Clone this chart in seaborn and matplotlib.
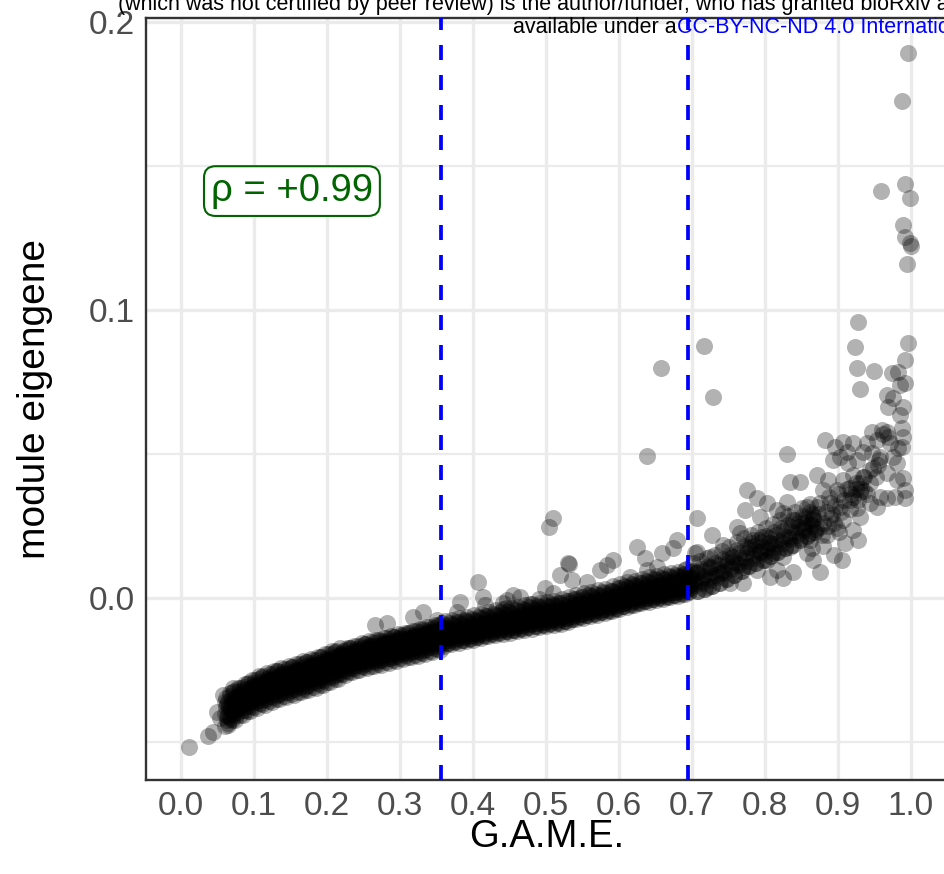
import matplotlib
matplotlib.use("Agg")
import matplotlib.pyplot as plt
import pandas as pd
import seaborn as sns

# ---------------------------------------------------------------- data
# G.A.M.E. score (x) and module eigengene (y) per sample, grouped by region

game_left = [
    0.060, 0.061, 0.062, 0.063, 0.064, 0.065, 0.066, 0.067, 0.068, 0.069,
    0.070, 0.071, 0.072, 0.073, 0.074, 0.075, 0.076, 0.077, 0.078, 0.079,
    0.080, 0.081, 0.082, 0.083, 0.084, 0.085, 0.086, 0.087, 0.088, 0.089,
    0.090, 0.091, 0.092, 0.093, 0.094, 0.095, 0.096, 0.097, 0.098, 0.099,
    0.100, 0.101, 0.102, 0.103, 0.104, 0.105, 0.106, 0.107, 0.108, 0.109,
    0.110, 0.111, 0.112, 0.113, 0.114, 0.115, 0.116, 0.117, 0.118, 0.119,
    0.120, 0.121, 0.122, 0.123, 0.124, 0.125, 0.126, 0.127, 0.128, 0.129,
    0.130, 0.131, 0.132, 0.133, 0.134, 0.135, 0.136, 0.137, 0.138, 0.139,
    0.140, 0.141, 0.142, 0.143, 0.144, 0.145, 0.146, 0.147, 0.148, 0.149,
    0.150, 0.151, 0.152, 0.153, 0.154, 0.155, 0.156, 0.157, 0.158, 0.159,
    0.160, 0.161, 0.162, 0.163, 0.164, 0.165, 0.166, 0.167, 0.168, 0.169,
    0.170, 0.171, 0.172, 0.173, 0.174, 0.175, 0.176, 0.177, 0.178, 0.179,
    0.180, 0.181, 0.182, 0.183, 0.184, 0.185, 0.186, 0.187, 0.188, 0.189,
    0.190, 0.191, 0.192, 0.193, 0.194, 0.195, 0.196, 0.197, 0.198, 0.199,
    0.200, 0.201, 0.202, 0.203, 0.204, 0.205, 0.206, 0.207, 0.208, 0.209,
    0.210, 0.211, 0.212, 0.213, 0.214, 0.215, 0.216, 0.217, 0.218, 0.219,
    0.220, 0.221, 0.222, 0.223, 0.224, 0.225, 0.226, 0.227, 0.228, 0.229,
    0.230, 0.231, 0.232, 0.233, 0.234, 0.235, 0.236, 0.237, 0.238, 0.239,
    0.240, 0.241, 0.242, 0.243, 0.244, 0.245, 0.246, 0.247, 0.248, 0.249,
    0.250, 0.251, 0.252, 0.253, 0.254, 0.255, 0.256, 0.257, 0.258, 0.259,
    0.260, 0.261, 0.262, 0.263, 0.264, 0.265, 0.266, 0.267, 0.268, 0.269,
    0.270, 0.271, 0.272, 0.273, 0.274, 0.275, 0.276, 0.277, 0.278, 0.279,
    0.280, 0.281, 0.282, 0.283, 0.284, 0.285, 0.286, 0.287, 0.288, 0.289,
    0.290, 0.291, 0.292, 0.293, 0.294, 0.295, 0.296, 0.297, 0.298, 0.299,
    0.300, 0.301, 0.302, 0.303, 0.304, 0.305, 0.306, 0.307, 0.308, 0.309,
    0.310, 0.311, 0.312, 0.313, 0.314, 0.315, 0.316, 0.317, 0.318, 0.319,
    0.320, 0.321, 0.322, 0.323, 0.324, 0.325, 0.326, 0.327, 0.328, 0.329,
    0.330, 0.331, 0.332, 0.333, 0.334, 0.335, 0.336, 0.337, 0.338, 0.339,
    0.340, 0.341, 0.342, 0.343, 0.344, 0.345, 0.346, 0.347, 0.348, 0.349,
    0.350, 0.351, 0.352, 0.353, 0.354, 0.355, 0.356, 0.357, 0.358, 0.359,
]
eig_left = [
    -0.0360, -0.0403, -0.0379, -0.0424, -0.0362, -0.0407, -0.0381, -0.0341, -0.0421, -0.0382,
    -0.0365, -0.0403, -0.0323, -0.0363, -0.0389, -0.0343, -0.0405, -0.0360, -0.0383, -0.0340,
    -0.0323, -0.0367, -0.0343, -0.0389, -0.0327, -0.0373, -0.0347, -0.0308, -0.0388, -0.0350,
    -0.0336, -0.0375, -0.0294, -0.0333, -0.0359, -0.0313, -0.0374, -0.0328, -0.0352, -0.0308,
    -0.0295, -0.0339, -0.0316, -0.0362, -0.0301, -0.0347, -0.0321, -0.0282, -0.0363, -0.0325,
    -0.0315, -0.0353, -0.0272, -0.0311, -0.0336, -0.0290, -0.0351, -0.0305, -0.0328, -0.0284,
    -0.0274, -0.0318, -0.0295, -0.0341, -0.0280, -0.0327, -0.0302, -0.0263, -0.0344, -0.0306,
    -0.0298, -0.0336, -0.0254, -0.0293, -0.0318, -0.0272, -0.0333, -0.0286, -0.0309, -0.0265,
    -0.0257, -0.0301, -0.0278, -0.0325, -0.0264, -0.0310, -0.0285, -0.0246, -0.0328, -0.0290,
    -0.0282, -0.0320, -0.0238, -0.0277, -0.0302, -0.0256, -0.0317, -0.0270, -0.0293, -0.0249,
    -0.0241, -0.0285, -0.0262, -0.0309, -0.0248, -0.0294, -0.0269, -0.0230, -0.0312, -0.0274,
    -0.0266, -0.0304, -0.0222, -0.0261, -0.0286, -0.0240, -0.0301, -0.0254, -0.0277, -0.0233,
    -0.0225, -0.0269, -0.0246, -0.0293, -0.0232, -0.0278, -0.0253, -0.0214, -0.0296, -0.0258,
    -0.0248, -0.0286, -0.0205, -0.0244, -0.0269, -0.0223, -0.0284, -0.0238, -0.0261, -0.0217,
    -0.0207, -0.0251, -0.0228, -0.0274, -0.0213, -0.0259, -0.0234, -0.0195, -0.0276, -0.0238,
    -0.0228, -0.0266, -0.0185, -0.0224, -0.0249, -0.0203, -0.0264, -0.0218, -0.0241, -0.0197,
    -0.0192, -0.0230, -0.0210, -0.0250, -0.0198, -0.0237, -0.0215, -0.0182, -0.0252, -0.0219,
    -0.0211, -0.0244, -0.0174, -0.0207, -0.0229, -0.0190, -0.0242, -0.0202, -0.0222, -0.0184,
    -0.0176, -0.0214, -0.0194, -0.0234, -0.0182, -0.0221, -0.0199, -0.0166, -0.0236, -0.0203,
    -0.0197, -0.0229, -0.0160, -0.0192, -0.0214, -0.0175, -0.0226, -0.0187, -0.0206, -0.0168,
    -0.0162, -0.0200, -0.0181, -0.0220, -0.0169, -0.0208, -0.0186, -0.0154, -0.0223, -0.0191,
    -0.0185, -0.0217, -0.0148, -0.0180, -0.0202, -0.0163, -0.0214, -0.0175, -0.0194, -0.0156,
    -0.0149, -0.0187, -0.0168, -0.0207, -0.0156, -0.0195, -0.0173, -0.0141, -0.0210, -0.0178,
    -0.0172, -0.0204, -0.0135, -0.0167, -0.0189, -0.0150, -0.0201, -0.0162, -0.0181, -0.0143,
    -0.0137, -0.0175, -0.0156, -0.0195, -0.0144, -0.0183, -0.0161, -0.0129, -0.0198, -0.0166,
    -0.0160, -0.0192, -0.0123, -0.0155, -0.0177, -0.0138, -0.0189, -0.0150, -0.0169, -0.0131,
    -0.0125, -0.0163, -0.0144, -0.0183, -0.0132, -0.0171, -0.0149, -0.0117, -0.0186, -0.0154,
    -0.0147, -0.0179, -0.0110, -0.0142, -0.0164, -0.0125, -0.0176, -0.0137, -0.0156, -0.0118,
    -0.0111, -0.0149, -0.0130, -0.0169, -0.0118, -0.0157, -0.0135, -0.0103, -0.0172, -0.0140,
    -0.0133, -0.0165, -0.0096, -0.0128, -0.0150, -0.0111, -0.0162, -0.0123, -0.0142, -0.0104,
]

game_left_b = [
    0.0605, 0.0615, 0.0625, 0.0635, 0.0645, 0.0655, 0.0665, 0.0675, 0.0685, 0.0695,
    0.0705, 0.0715, 0.0725, 0.0735, 0.0745, 0.0755, 0.0765, 0.0775, 0.0785, 0.0795,
    0.0805, 0.0815, 0.0825, 0.0835, 0.0845, 0.0855, 0.0865, 0.0875, 0.0885, 0.0895,
    0.0905, 0.0915, 0.0925, 0.0935, 0.0945, 0.0955, 0.0965, 0.0975, 0.0985, 0.0995,
    0.1005, 0.1015, 0.1025, 0.1035, 0.1045, 0.1055, 0.1065, 0.1075, 0.1085, 0.1095,
    0.1105, 0.1115, 0.1125, 0.1135, 0.1145, 0.1155, 0.1165, 0.1175, 0.1185, 0.1195,
    0.1205, 0.1215, 0.1225, 0.1235, 0.1245, 0.1255, 0.1265, 0.1275, 0.1285, 0.1295,
    0.1305, 0.1315, 0.1325, 0.1335, 0.1345, 0.1355, 0.1365, 0.1375, 0.1385, 0.1395,
    0.1405, 0.1415, 0.1425, 0.1435, 0.1445, 0.1455, 0.1465, 0.1475, 0.1485, 0.1495,
    0.1505, 0.1515, 0.1525, 0.1535, 0.1545, 0.1555, 0.1565, 0.1575, 0.1585, 0.1595,
    0.1605, 0.1615, 0.1625, 0.1635, 0.1645, 0.1655, 0.1665, 0.1675, 0.1685, 0.1695,
    0.1705, 0.1715, 0.1725, 0.1735, 0.1745, 0.1755, 0.1765, 0.1775, 0.1785, 0.1795,
    0.1805, 0.1815, 0.1825, 0.1835, 0.1845, 0.1855, 0.1865, 0.1875, 0.1885, 0.1895,
    0.1905, 0.1915, 0.1925, 0.1935, 0.1945, 0.1955, 0.1965, 0.1975, 0.1985, 0.1995,
    0.2005, 0.2015, 0.2025, 0.2035, 0.2045, 0.2055, 0.2065, 0.2075, 0.2085, 0.2095,
    0.2105, 0.2115, 0.2125, 0.2135, 0.2145, 0.2155, 0.2165, 0.2175, 0.2185, 0.2195,
    0.2205, 0.2215, 0.2225, 0.2235, 0.2245, 0.2255, 0.2265, 0.2275, 0.2285, 0.2295,
    0.2305, 0.2315, 0.2325, 0.2335, 0.2345, 0.2355, 0.2365, 0.2375, 0.2385, 0.2395,
    0.2405, 0.2415, 0.2425, 0.2435, 0.2445, 0.2455, 0.2465, 0.2475, 0.2485, 0.2495,
    0.2505, 0.2515, 0.2525, 0.2535, 0.2545, 0.2555, 0.2565, 0.2575, 0.2585, 0.2595,
    0.2605, 0.2615, 0.2625, 0.2635, 0.2645, 0.2655, 0.2665, 0.2675, 0.2685, 0.2695,
    0.2705, 0.2715, 0.2725, 0.2735, 0.2745, 0.2755, 0.2765, 0.2775, 0.2785, 0.2795,
    0.2805, 0.2815, 0.2825, 0.2835, 0.2845, 0.2855, 0.2865, 0.2875, 0.2885, 0.2895,
    0.2905, 0.2915, 0.2925, 0.2935, 0.2945, 0.2955, 0.2965, 0.2975, 0.2985, 0.2995,
    0.3005, 0.3015, 0.3025, 0.3035, 0.3045, 0.3055, 0.3065, 0.3075, 0.3085, 0.3095,
    0.3105, 0.3115, 0.3125, 0.3135, 0.3145, 0.3155, 0.3165, 0.3175, 0.3185, 0.3195,
    0.3205, 0.3215, 0.3225, 0.3235, 0.3245, 0.3255, 0.3265, 0.3275, 0.3285, 0.3295,
    0.3305, 0.3315, 0.3325, 0.3335, 0.3345, 0.3355, 0.3365, 0.3375, 0.3385, 0.3395,
    0.3405, 0.3415, 0.3425, 0.3435, 0.3445, 0.3455, 0.3465, 0.3475, 0.3485, 0.3495,
    0.3505, 0.3515, 0.3525, 0.3535, 0.3545, 0.3555, 0.3565, 0.3575, 0.3585, 0.3595,
]
eig_left_b = [
    -0.0445, -0.0348, -0.0411, -0.0369, -0.0442, -0.0375, -0.0413, -0.0331, -0.0387, -0.0349,
    -0.0425, -0.0328, -0.0392, -0.0350, -0.0423, -0.0357, -0.0395, -0.0313, -0.0369, -0.0332,
    -0.0408, -0.0312, -0.0375, -0.0334, -0.0407, -0.0341, -0.0379, -0.0298, -0.0354, -0.0317,
    -0.0393, -0.0297, -0.0360, -0.0319, -0.0393, -0.0327, -0.0365, -0.0284, -0.0341, -0.0303,
    -0.0380, -0.0284, -0.0348, -0.0307, -0.0381, -0.0315, -0.0353, -0.0272, -0.0329, -0.0292,
    -0.0369, -0.0273, -0.0337, -0.0296, -0.0370, -0.0304, -0.0343, -0.0262, -0.0319, -0.0282,
    -0.0359, -0.0263, -0.0327, -0.0286, -0.0360, -0.0295, -0.0334, -0.0253, -0.0310, -0.0273,
    -0.0350, -0.0254, -0.0318, -0.0278, -0.0352, -0.0286, -0.0325, -0.0244, -0.0302, -0.0265,
    -0.0342, -0.0246, -0.0310, -0.0270, -0.0344, -0.0278, -0.0317, -0.0236, -0.0294, -0.0257,
    -0.0334, -0.0238, -0.0302, -0.0262, -0.0336, -0.0270, -0.0309, -0.0228, -0.0286, -0.0249,
    -0.0326, -0.0230, -0.0294, -0.0254, -0.0328, -0.0262, -0.0301, -0.0220, -0.0278, -0.0241,
    -0.0318, -0.0222, -0.0286, -0.0246, -0.0320, -0.0254, -0.0293, -0.0212, -0.0270, -0.0233,
    -0.0310, -0.0214, -0.0278, -0.0238, -0.0312, -0.0246, -0.0285, -0.0204, -0.0262, -0.0225,
    -0.0302, -0.0206, -0.0270, -0.0229, -0.0303, -0.0237, -0.0276, -0.0195, -0.0252, -0.0215,
    -0.0292, -0.0196, -0.0260, -0.0219, -0.0293, -0.0227, -0.0266, -0.0185, -0.0242, -0.0205,
    -0.0282, -0.0186, -0.0250, -0.0209, -0.0283, -0.0217, -0.0256, -0.0175, -0.0232, -0.0195,
    -0.0265, -0.0183, -0.0237, -0.0203, -0.0266, -0.0209, -0.0243, -0.0173, -0.0223, -0.0191,
    -0.0257, -0.0175, -0.0229, -0.0195, -0.0258, -0.0201, -0.0235, -0.0165, -0.0215, -0.0183,
    -0.0249, -0.0167, -0.0221, -0.0187, -0.0250, -0.0193, -0.0227, -0.0157, -0.0207, -0.0175,
    -0.0241, -0.0159, -0.0214, -0.0179, -0.0243, -0.0186, -0.0220, -0.0151, -0.0200, -0.0169,
    -0.0235, -0.0153, -0.0208, -0.0173, -0.0237, -0.0180, -0.0214, -0.0145, -0.0194, -0.0163,
    -0.0229, -0.0147, -0.0202, -0.0167, -0.0231, -0.0174, -0.0208, -0.0139, -0.0188, -0.0157,
    -0.0222, -0.0140, -0.0195, -0.0160, -0.0224, -0.0167, -0.0201, -0.0132, -0.0181, -0.0150,
    -0.0216, -0.0134, -0.0189, -0.0154, -0.0218, -0.0161, -0.0195, -0.0126, -0.0175, -0.0144,
    -0.0210, -0.0128, -0.0183, -0.0148, -0.0212, -0.0155, -0.0189, -0.0120, -0.0169, -0.0138,
    -0.0204, -0.0122, -0.0177, -0.0142, -0.0206, -0.0149, -0.0183, -0.0114, -0.0163, -0.0132,
    -0.0198, -0.0116, -0.0171, -0.0136, -0.0200, -0.0143, -0.0177, -0.0108, -0.0157, -0.0126,
    -0.0191, -0.0109, -0.0164, -0.0129, -0.0193, -0.0136, -0.0170, -0.0101, -0.0150, -0.0119,
    -0.0184, -0.0102, -0.0157, -0.0122, -0.0186, -0.0129, -0.0163, -0.0094, -0.0143, -0.0112,
    -0.0177, -0.0095, -0.0150, -0.0115, -0.0179, -0.0122, -0.0156, -0.0087, -0.0136, -0.0105,
]

game_mid = [
    0.361, 0.363, 0.364, 0.366, 0.367, 0.369, 0.362, 0.365,
    0.371, 0.373, 0.374, 0.376, 0.377, 0.379, 0.372, 0.375,
    0.381, 0.383, 0.384, 0.386, 0.387, 0.389, 0.382, 0.385,
    0.391, 0.393, 0.394, 0.396, 0.397, 0.399, 0.392, 0.395,
    0.401, 0.403, 0.404, 0.406, 0.407, 0.409, 0.402, 0.405,
    0.411, 0.413, 0.414, 0.416, 0.417, 0.419, 0.412, 0.415,
    0.421, 0.423, 0.424, 0.426, 0.427, 0.429, 0.422, 0.425,
    0.431, 0.433, 0.434, 0.436, 0.437, 0.439, 0.432, 0.435,
    0.441, 0.443, 0.444, 0.446, 0.447, 0.449, 0.442, 0.445,
    0.451, 0.453, 0.454, 0.456, 0.457, 0.459, 0.452, 0.455,
    0.461, 0.463, 0.464, 0.466, 0.467, 0.469, 0.462, 0.465,
    0.471, 0.473, 0.474, 0.476, 0.477, 0.479, 0.472, 0.475,
    0.481, 0.483, 0.484, 0.486, 0.487, 0.489, 0.482, 0.485,
    0.491, 0.493, 0.494, 0.496, 0.497, 0.499, 0.492, 0.495,
    0.501, 0.503, 0.504, 0.506, 0.507, 0.509, 0.502, 0.505,
    0.511, 0.513, 0.514, 0.516, 0.517, 0.519, 0.512, 0.515,
    0.521, 0.523, 0.524, 0.526, 0.527, 0.529, 0.522, 0.525,
    0.531, 0.533, 0.534, 0.536, 0.537, 0.539, 0.532, 0.535,
    0.541, 0.543, 0.544, 0.546, 0.547, 0.549, 0.542, 0.545,
    0.551, 0.553, 0.554, 0.556, 0.557, 0.559, 0.552, 0.555,
    0.561, 0.563, 0.564, 0.566, 0.567, 0.569, 0.562, 0.565,
    0.571, 0.573, 0.574, 0.576, 0.577, 0.579, 0.572, 0.575,
    0.581, 0.583, 0.584, 0.586, 0.587, 0.589, 0.582, 0.585,
    0.591, 0.593, 0.594, 0.596, 0.597, 0.599, 0.592, 0.595,
    0.601, 0.603, 0.604, 0.606, 0.607, 0.609, 0.602, 0.605,
    0.611, 0.613, 0.614, 0.616, 0.617, 0.619, 0.612, 0.615,
    0.621, 0.623, 0.624, 0.626, 0.627, 0.629, 0.622, 0.625,
    0.631, 0.633, 0.634, 0.636, 0.637, 0.639, 0.632, 0.635,
    0.641, 0.643, 0.644, 0.646, 0.647, 0.649, 0.642, 0.645,
    0.651, 0.653, 0.654, 0.656, 0.657, 0.659, 0.652, 0.655,
    0.661, 0.663, 0.664, 0.666, 0.667, 0.669, 0.662, 0.665,
    0.671, 0.673, 0.674, 0.676, 0.677, 0.679, 0.672, 0.675,
    0.681, 0.683, 0.684, 0.686, 0.687, 0.689, 0.682, 0.685,
    0.691, 0.693, 0.694, 0.696, 0.697, 0.699, 0.692, 0.695,
]
eig_mid = [
    -0.0095, -0.0140, -0.0117, -0.0157, -0.0107, -0.0130, -0.0125, -0.0147,
    -0.0090, -0.0135, -0.0112, -0.0152, -0.0102, -0.0125, -0.0120, -0.0142,
    -0.0085, -0.0130, -0.0107, -0.0147, -0.0097, -0.0120, -0.0115, -0.0137,
    -0.0080, -0.0125, -0.0102, -0.0142, -0.0092, -0.0115, -0.0110, -0.0132,
    -0.0075, -0.0120, -0.0097, -0.0137, -0.0087, -0.0110, -0.0105, -0.0127,
    -0.0069, -0.0114, -0.0091, -0.0131, -0.0081, -0.0104, -0.0099, -0.0121,
    -0.0063, -0.0108, -0.0085, -0.0125, -0.0075, -0.0098, -0.0093, -0.0115,
    -0.0058, -0.0103, -0.0080, -0.0120, -0.0070, -0.0093, -0.0088, -0.0110,
    -0.0054, -0.0099, -0.0076, -0.0116, -0.0066, -0.0089, -0.0084, -0.0106,
    -0.0050, -0.0095, -0.0072, -0.0112, -0.0062, -0.0085, -0.0080, -0.0102,
    -0.0045, -0.0090, -0.0067, -0.0107, -0.0057, -0.0080, -0.0075, -0.0097,
    -0.0040, -0.0085, -0.0062, -0.0102, -0.0052, -0.0075, -0.0070, -0.0092,
    -0.0036, -0.0081, -0.0058, -0.0098, -0.0048, -0.0071, -0.0066, -0.0088,
    -0.0032, -0.0077, -0.0054, -0.0094, -0.0044, -0.0067, -0.0062, -0.0084,
    -0.0028, -0.0073, -0.0050, -0.0090, -0.0040, -0.0063, -0.0058, -0.0080,
    -0.0024, -0.0069, -0.0046, -0.0086, -0.0036, -0.0059, -0.0054, -0.0076,
    -0.0019, -0.0064, -0.0041, -0.0081, -0.0031, -0.0054, -0.0049, -0.0071,
    -0.0012, -0.0057, -0.0034, -0.0074, -0.0024, -0.0047, -0.0042, -0.0064,
    -0.0004, -0.0049, -0.0026, -0.0066, -0.0016, -0.0039, -0.0034, -0.0056,
    0.0002, -0.0043, -0.0020, -0.0060, -0.0010, -0.0033, -0.0028, -0.0050,
    0.0007, -0.0038, -0.0015, -0.0055, -0.0005, -0.0028, -0.0023, -0.0045,
    0.0012, -0.0033, -0.0010, -0.0050, 0.0000, -0.0023, -0.0018, -0.0040,
    0.0017, -0.0028, -0.0005, -0.0045, 0.0005, -0.0018, -0.0013, -0.0035,
    0.0025, -0.0020, 0.0003, -0.0037, 0.0013, -0.0010, -0.0005, -0.0027,
    0.0033, -0.0012, 0.0011, -0.0029, 0.0021, -0.0002, 0.0003, -0.0019,
    0.0039, -0.0006, 0.0017, -0.0023, 0.0027, 0.0004, 0.0009, -0.0013,
    0.0045, 0.0000, 0.0023, -0.0017, 0.0033, 0.0010, 0.0015, -0.0007,
    0.0051, 0.0006, 0.0029, -0.0011, 0.0039, 0.0016, 0.0021, -0.0001,
    0.0057, 0.0012, 0.0035, -0.0005, 0.0045, 0.0022, 0.0027, 0.0005,
    0.0062, 0.0017, 0.0040, 0.0000, 0.0050, 0.0027, 0.0032, 0.0010,
    0.0067, 0.0022, 0.0045, 0.0005, 0.0055, 0.0032, 0.0037, 0.0015,
    0.0072, 0.0027, 0.0050, 0.0010, 0.0060, 0.0037, 0.0042, 0.0020,
    0.0077, 0.0032, 0.0055, 0.0015, 0.0065, 0.0042, 0.0047, 0.0025,
    0.0084, 0.0039, 0.0062, 0.0022, 0.0072, 0.0049, 0.0054, 0.0032,
]

game_mid_b = [
    0.3605, 0.3615, 0.3625, 0.3635, 0.3655, 0.3665, 0.3675, 0.3685,
    0.3705, 0.3715, 0.3725, 0.3735, 0.3755, 0.3765, 0.3775, 0.3785,
    0.3805, 0.3815, 0.3825, 0.3835, 0.3855, 0.3865, 0.3875, 0.3885,
    0.3905, 0.3915, 0.3925, 0.3935, 0.3955, 0.3965, 0.3975, 0.3985,
    0.4005, 0.4015, 0.4025, 0.4035, 0.4055, 0.4065, 0.4075, 0.4085,
    0.4105, 0.4115, 0.4125, 0.4135, 0.4155, 0.4165, 0.4175, 0.4185,
    0.4205, 0.4215, 0.4225, 0.4235, 0.4255, 0.4265, 0.4275, 0.4285,
    0.4305, 0.4315, 0.4325, 0.4335, 0.4355, 0.4365, 0.4375, 0.4385,
    0.4405, 0.4415, 0.4425, 0.4435, 0.4455, 0.4465, 0.4475, 0.4485,
    0.4505, 0.4515, 0.4525, 0.4535, 0.4555, 0.4565, 0.4575, 0.4585,
    0.4605, 0.4615, 0.4625, 0.4635, 0.4655, 0.4665, 0.4675, 0.4685,
    0.4705, 0.4715, 0.4725, 0.4735, 0.4755, 0.4765, 0.4775, 0.4785,
    0.4805, 0.4815, 0.4825, 0.4835, 0.4855, 0.4865, 0.4875, 0.4885,
    0.4905, 0.4915, 0.4925, 0.4935, 0.4955, 0.4965, 0.4975, 0.4985,
    0.5005, 0.5015, 0.5025, 0.5035, 0.5055, 0.5065, 0.5075, 0.5085,
    0.5105, 0.5115, 0.5125, 0.5135, 0.5155, 0.5165, 0.5175, 0.5185,
    0.5205, 0.5215, 0.5225, 0.5235, 0.5255, 0.5265, 0.5275, 0.5285,
    0.5305, 0.5315, 0.5325, 0.5335, 0.5355, 0.5365, 0.5375, 0.5385,
    0.5405, 0.5415, 0.5425, 0.5435, 0.5455, 0.5465, 0.5475, 0.5485,
    0.5505, 0.5515, 0.5525, 0.5535, 0.5555, 0.5565, 0.5575, 0.5585,
    0.5605, 0.5615, 0.5625, 0.5635, 0.5655, 0.5665, 0.5675, 0.5685,
    0.5705, 0.5715, 0.5725, 0.5735, 0.5755, 0.5765, 0.5775, 0.5785,
    0.5805, 0.5815, 0.5825, 0.5835, 0.5855, 0.5865, 0.5875, 0.5885,
    0.5905, 0.5915, 0.5925, 0.5935, 0.5955, 0.5965, 0.5975, 0.5985,
    0.6005, 0.6015, 0.6025, 0.6035, 0.6055, 0.6065, 0.6075, 0.6085,
    0.6105, 0.6115, 0.6125, 0.6135, 0.6155, 0.6165, 0.6175, 0.6185,
    0.6205, 0.6215, 0.6225, 0.6235, 0.6255, 0.6265, 0.6275, 0.6285,
    0.6305, 0.6315, 0.6325, 0.6335, 0.6355, 0.6365, 0.6375, 0.6385,
    0.6405, 0.6415, 0.6425, 0.6435, 0.6455, 0.6465, 0.6475, 0.6485,
    0.6505, 0.6515, 0.6525, 0.6535, 0.6555, 0.6565, 0.6575, 0.6585,
    0.6605, 0.6615, 0.6625, 0.6635, 0.6655, 0.6665, 0.6675, 0.6685,
    0.6705, 0.6715, 0.6725, 0.6735, 0.6755, 0.6765, 0.6775, 0.6785,
    0.6805, 0.6815, 0.6825, 0.6835, 0.6855, 0.6865, 0.6875, 0.6885,
    0.6905, 0.6915, 0.6925, 0.6935, 0.6955, 0.6965, 0.6975, 0.6985,
]
eig_mid_b = [
    -0.0165, -0.0080, -0.0137, -0.0100, -0.0155, -0.0113, -0.0145, -0.0087,
    -0.0160, -0.0075, -0.0132, -0.0095, -0.0150, -0.0108, -0.0140, -0.0082,
    -0.0155, -0.0070, -0.0127, -0.0090, -0.0145, -0.0103, -0.0135, -0.0077,
    -0.0150, -0.0065, -0.0122, -0.0085, -0.0140, -0.0098, -0.0130, -0.0072,
    -0.0145, -0.0060, -0.0117, -0.0080, -0.0135, -0.0093, -0.0125, -0.0067,
    -0.0139, -0.0054, -0.0111, -0.0074, -0.0129, -0.0087, -0.0119, -0.0061,
    -0.0133, -0.0048, -0.0105, -0.0068, -0.0123, -0.0081, -0.0113, -0.0055,
    -0.0128, -0.0043, -0.0100, -0.0063, -0.0118, -0.0076, -0.0108, -0.0050,
    -0.0124, -0.0039, -0.0096, -0.0059, -0.0114, -0.0072, -0.0104, -0.0046,
    -0.0120, -0.0035, -0.0092, -0.0055, -0.0110, -0.0068, -0.0100, -0.0042,
    -0.0115, -0.0030, -0.0087, -0.0050, -0.0105, -0.0063, -0.0095, -0.0037,
    -0.0110, -0.0025, -0.0082, -0.0045, -0.0100, -0.0058, -0.0090, -0.0032,
    -0.0106, -0.0021, -0.0078, -0.0041, -0.0096, -0.0054, -0.0086, -0.0028,
    -0.0102, -0.0017, -0.0074, -0.0037, -0.0092, -0.0050, -0.0082, -0.0024,
    -0.0098, -0.0013, -0.0070, -0.0033, -0.0088, -0.0046, -0.0078, -0.0020,
    -0.0094, -0.0009, -0.0066, -0.0029, -0.0084, -0.0042, -0.0074, -0.0016,
    -0.0089, -0.0004, -0.0061, -0.0024, -0.0079, -0.0037, -0.0069, -0.0011,
    -0.0082, 0.0003, -0.0054, -0.0017, -0.0072, -0.0030, -0.0062, -0.0004,
    -0.0074, 0.0011, -0.0046, -0.0009, -0.0064, -0.0022, -0.0054, 0.0004,
    -0.0068, 0.0017, -0.0040, -0.0003, -0.0058, -0.0016, -0.0048, 0.0010,
    -0.0063, 0.0022, -0.0035, 0.0002, -0.0053, -0.0011, -0.0043, 0.0015,
    -0.0058, 0.0027, -0.0030, 0.0007, -0.0048, -0.0006, -0.0038, 0.0020,
    -0.0053, 0.0032, -0.0025, 0.0012, -0.0043, -0.0001, -0.0033, 0.0025,
    -0.0045, 0.0040, -0.0017, 0.0020, -0.0035, 0.0007, -0.0025, 0.0033,
    -0.0037, 0.0048, -0.0009, 0.0028, -0.0027, 0.0015, -0.0017, 0.0041,
    -0.0031, 0.0054, -0.0003, 0.0034, -0.0021, 0.0021, -0.0011, 0.0047,
    -0.0025, 0.0060, 0.0003, 0.0040, -0.0015, 0.0027, -0.0005, 0.0053,
    -0.0019, 0.0066, 0.0009, 0.0046, -0.0009, 0.0033, 0.0001, 0.0059,
    -0.0013, 0.0072, 0.0015, 0.0052, -0.0003, 0.0039, 0.0007, 0.0065,
    -0.0008, 0.0077, 0.0020, 0.0057, 0.0002, 0.0044, 0.0012, 0.0070,
    -0.0003, 0.0082, 0.0025, 0.0062, 0.0007, 0.0049, 0.0017, 0.0075,
    0.0002, 0.0087, 0.0030, 0.0067, 0.0012, 0.0054, 0.0022, 0.0080,
    0.0007, 0.0092, 0.0035, 0.0072, 0.0017, 0.0059, 0.0027, 0.0085,
    0.0014, 0.0099, 0.0042, 0.0079, 0.0024, 0.0066, 0.0034, 0.0089,
]

game_upper = [
    0.702, 0.704, 0.706, 0.708, 0.701, 0.703, 0.705, 0.707,
    0.712, 0.714, 0.716, 0.718, 0.711, 0.713, 0.715, 0.717,
    0.722, 0.724, 0.726, 0.728, 0.721, 0.723, 0.725, 0.727,
    0.732, 0.734, 0.736, 0.738, 0.731, 0.733, 0.735, 0.737,
    0.742, 0.744, 0.746, 0.748, 0.741, 0.743, 0.745, 0.747,
    0.752, 0.754, 0.756, 0.758, 0.751, 0.753, 0.755, 0.757,
    0.762, 0.764, 0.766, 0.768, 0.761, 0.763, 0.765, 0.767,
    0.772, 0.774, 0.776, 0.778, 0.771, 0.773, 0.775, 0.777,
    0.782, 0.784, 0.786, 0.788, 0.781, 0.783, 0.785, 0.787,
    0.792, 0.794, 0.796, 0.798, 0.791, 0.793, 0.795, 0.797,
    0.802, 0.804, 0.806, 0.808, 0.801, 0.803, 0.805, 0.807,
    0.812, 0.814, 0.816, 0.818, 0.811, 0.813, 0.815, 0.817,
    0.822, 0.824, 0.826, 0.828, 0.821, 0.823, 0.825, 0.827,
    0.832, 0.834, 0.836, 0.838, 0.831, 0.833, 0.835, 0.837,
    0.842, 0.844, 0.846, 0.848, 0.841, 0.843, 0.845, 0.847,
    0.852, 0.854, 0.856, 0.858, 0.851, 0.853, 0.855, 0.857,
    0.862, 0.864, 0.866, 0.868, 0.861, 0.863, 0.865, 0.867,
]
eig_upper = [
    0.0095, 0.0045, 0.0070, 0.0025, 0.0123, 0.0053, 0.0087, 0.0025,
    0.0102, 0.0052, 0.0077, 0.0032, 0.0130, 0.0060, 0.0094, 0.0032,
    0.0112, 0.0062, 0.0087, 0.0042, 0.0140, 0.0070, 0.0104, 0.0042,
    0.0123, 0.0073, 0.0098, 0.0053, 0.0151, 0.0081, 0.0115, 0.0053,
    0.0136, 0.0086, 0.0111, 0.0066, 0.0164, 0.0094, 0.0128, 0.0066,
    0.0150, 0.0100, 0.0125, 0.0080, 0.0178, 0.0108, 0.0142, 0.0080,
    0.0165, 0.0115, 0.0140, 0.0095, 0.0193, 0.0123, 0.0157, 0.0095,
    0.0180, 0.0130, 0.0155, 0.0110, 0.0208, 0.0138, 0.0172, 0.0110,
    0.0190, 0.0140, 0.0165, 0.0120, 0.0218, 0.0148, 0.0182, 0.0120,
    0.0202, 0.0152, 0.0177, 0.0132, 0.0230, 0.0160, 0.0194, 0.0132,
    0.0215, 0.0165, 0.0190, 0.0145, 0.0243, 0.0173, 0.0207, 0.0145,
    0.0228, 0.0178, 0.0203, 0.0158, 0.0256, 0.0186, 0.0220, 0.0158,
    0.0242, 0.0192, 0.0217, 0.0172, 0.0270, 0.0200, 0.0234, 0.0172,
    0.0255, 0.0205, 0.0230, 0.0185, 0.0283, 0.0213, 0.0247, 0.0185,
    0.0270, 0.0220, 0.0245, 0.0200, 0.0298, 0.0228, 0.0262, 0.0200,
    0.0285, 0.0235, 0.0260, 0.0215, 0.0313, 0.0243, 0.0277, 0.0215,
    0.0300, 0.0250, 0.0275, 0.0230, 0.0328, 0.0258, 0.0292, 0.0230,
]

# lowest-scoring samples at the start of the curve
tail_points = [
    (0.011, -0.0517), (0.037, -0.0479), (0.044, -0.0465), (0.049, -0.0396),
    (0.053, -0.0417), (0.058, -0.0337), (0.064, -0.0434), (0.071, -0.0313),
]

# samples sitting above the main trend in the middle range
mid_scatter = [
    (0.266, -0.0094), (0.282, -0.0087), (0.318, -0.0066), (0.332, -0.0049),
    (0.351, -0.0076), (0.378, -0.0049), (0.382, -0.0014), (0.407, 0.0056),
    (0.414, 0.0003), (0.416, -0.0024), (0.441, -0.0017), (0.445, -0.0035),
    (0.447, -0.0007), (0.455, 0.0010), (0.464, 0.0003), (0.478, -0.0020),
    (0.490, -0.0005), (0.499, 0.0035), (0.510, 0.0017), (0.504, 0.0247),
    (0.510, 0.0278), (0.530, 0.0122), (0.532, 0.0118), (0.519, 0.0080),
    (0.536, 0.0063), (0.556, 0.0056), (0.574, 0.0097), (0.584, 0.0115),
    (0.592, 0.0132), (0.615, 0.0073), (0.625, 0.0177), (0.636, 0.0139),
    (0.638, 0.0097), (0.652, 0.0108), (0.659, 0.0156), (0.674, 0.0174),
    (0.679, 0.0201), (0.690, 0.0097), (0.707, 0.0278), (0.707, 0.0090),
    (0.725, 0.0142), (0.638, 0.0493), (0.658, 0.0799), (0.716, 0.0875),
    (0.729, 0.0698),
]

# spread of samples between G.A.M.E. 0.70 and 0.87
upper_scatter = [
    (0.830, 0.0500), (0.775, 0.0375), (0.789, 0.0347), (0.803, 0.0330),
    (0.773, 0.0306), (0.834, 0.0403), (0.848, 0.0403), (0.830, 0.0333),
    (0.816, 0.0306), (0.793, 0.0281), (0.762, 0.0247), (0.727, 0.0219),
    (0.742, 0.0184), (0.707, 0.0160), (0.766, 0.0226), (0.784, 0.0201),
    (0.796, 0.0212), (0.807, 0.0191), (0.825, 0.0295), (0.838, 0.0271),
    (0.858, 0.0316), (0.852, 0.0260), (0.866, 0.0271), (0.862, 0.0201),
    (0.834, 0.0177), (0.811, 0.0156), (0.825, 0.0142), (0.803, 0.0132),
    (0.789, 0.0097), (0.807, 0.0073), (0.825, 0.0069), (0.838, 0.0090),
    (0.866, 0.0132), (0.756, 0.0142), (0.770, 0.0108), (0.752, 0.0052),
    (0.738, 0.0087), (0.725, 0.0108), (0.715, 0.0073), (0.701, 0.0062),
    (0.722, 0.0038), (0.704, 0.0156), (0.770, 0.0052), (0.793, 0.0160),
    (0.848, 0.0208), (0.858, 0.0156), (0.816, 0.0097), (0.779, 0.0177),
    (0.748, 0.0122),
]

# dense cloud just below G.A.M.E. 0.95
bend_points = [
    (0.872, 0.0290), (0.876, 0.0330), (0.880, 0.0260), (0.884, 0.0300),
    (0.888, 0.0350), (0.892, 0.0290), (0.896, 0.0320), (0.900, 0.0360),
    (0.904, 0.0300), (0.908, 0.0340), (0.912, 0.0380), (0.916, 0.0310),
    (0.920, 0.0350), (0.924, 0.0400), (0.928, 0.0340), (0.932, 0.0380),
    (0.936, 0.0420), (0.940, 0.0360), (0.944, 0.0400), (0.948, 0.0450),
    (0.952, 0.0420), (0.956, 0.0480), (0.870, 0.0240), (0.878, 0.0220),
    (0.886, 0.0250), (0.894, 0.0260), (0.902, 0.0230),
]

# highest-scoring samples, where the eigengene rises steeply
top_points = [
    (0.927, 0.0958), (0.923, 0.0872), (0.926, 0.0799), (0.949, 0.0788),
    (0.930, 0.0726), (0.996, 0.0885), (0.992, 0.0826), (0.982, 0.0785),
    (0.974, 0.0781), (0.992, 0.0747), (0.985, 0.0740), (0.967, 0.0705),
    (0.975, 0.0694), (0.989, 0.0663), (0.968, 0.0663), (0.985, 0.0635),
    (0.960, 0.0583), (0.947, 0.0576), (0.967, 0.0576), (0.988, 0.0590),
    (0.989, 0.0559), (0.953, 0.0549), (0.971, 0.0538), (0.982, 0.0521),
    (0.940, 0.0538), (0.921, 0.0538), (0.907, 0.0542), (0.882, 0.0549),
    (0.896, 0.0524), (0.934, 0.0507), (0.912, 0.0507), (0.947, 0.0503),
    (0.958, 0.0490), (0.975, 0.0490), (0.988, 0.0524), (0.903, 0.0490),
    (0.926, 0.0479), (0.914, 0.0469), (0.981, 0.0469), (0.955, 0.0462),
    (0.893, 0.0479), (0.944, 0.0444), (0.967, 0.0434), (0.921, 0.0427),
    (0.907, 0.0410), (0.989, 0.0417), (0.934, 0.0420), (0.871, 0.0427),
    (0.886, 0.0410), (0.981, 0.0410), (0.992, 0.0375), (0.916, 0.0382),
    (0.899, 0.0375), (0.930, 0.0368), (0.879, 0.0375), (0.958, 0.0351),
    (0.967, 0.0347), (0.978, 0.0351), (0.992, 0.0347), (0.944, 0.0330),
    (0.889, 0.0330), (0.916, 0.0340), (0.926, 0.0312), (0.871, 0.0316),
    (0.903, 0.0316), (0.953, 0.0316), (0.866, 0.0281), (0.889, 0.0278),
    (0.907, 0.0271), (0.930, 0.0281), (0.875, 0.0247), (0.899, 0.0243),
    (0.921, 0.0236), (0.862, 0.0226), (0.885, 0.0219), (0.925, 0.0380),
    (0.930, 0.0400), (0.918, 0.0360), (0.935, 0.0370), (0.962, 0.0570),
    (0.968, 0.0560), (0.880, 0.0180), (0.895, 0.0150), (0.910, 0.0190),
    (0.927, 0.0201), (0.875, 0.0090), (0.905, 0.0132), (0.864, 0.0174),
    (0.959, 0.1413), (0.996, 0.1892), (0.988, 0.1726), (0.992, 0.1438),
    (0.999, 0.1389), (0.989, 0.1295), (0.992, 0.1253), (0.999, 0.1233),
    (1.000, 0.1222), (0.994, 0.1160),
]

x_ticks = [0.0, 0.1, 0.2, 0.3, 0.4, 0.5, 0.6, 0.7, 0.8, 0.9, 1.0]
y_ticks = [0.0, 0.1, 0.2]
y_minor = [-0.05, 0.05, 0.15]
thresholds = [0.3564, 0.694]
rho_label = "\u03c1 = +0.99"
rho_pos = (0.152, 0.1413)

pairs = tail_points + mid_scatter + upper_scatter + bend_points + top_points
df = pd.DataFrame({
    "game": (game_left + game_left_b + game_mid + game_mid_b + game_upper
             + [p[0] for p in pairs]),
    "eigengene": (eig_left + eig_left_b + eig_mid + eig_mid_b + eig_upper
                  + [p[1] for p in pairs]),
})

# ---------------------------------------------------------------- style
sns.set_theme(style="white")
plt.rcParams["font.family"] = ["Liberation Sans", "DejaVu Sans"]

W, H = 945, 874
fig = plt.figure(figsize=(W / 100, H / 100), dpi=100)
left_px, right_px, top_px, bottom_px = 146, 948, 18, 780
ax = fig.add_axes([left_px / W, 1 - bottom_px / H,
                   (right_px - left_px) / W, (bottom_px - top_px) / H])

ax.set_xlim(-0.0479, 1.0507)
ax.set_ylim(-0.0632, 0.2014)
ax.set_xticks(x_ticks)
ax.set_xticklabels([f"{v:.1f}" for v in x_ticks])
ax.set_yticks(y_ticks)
ax.set_yticklabels([f"{v:.1f}" for v in y_ticks])
ax.set_yticks(y_minor, minor=True)

ax.set_axisbelow(True)
ax.grid(which="major", color="#EBEBEB", linewidth=2.4)
ax.grid(which="minor", axis="y", color="#EBEBEB", linewidth=1.65)

sns.scatterplot(data=df, x="game", y="eigengene", ax=ax, color="black",
                alpha=0.3, s=150, linewidth=0, legend=False, zorder=2)

for t in thresholds:
    ax.axvline(t, color="blue", linewidth=2.7, linestyle=(0, (4, 4)), zorder=3)

ax.text(rho_pos[0], rho_pos[1], rho_label, fontsize=27.5, color="#006400",
        ha="center", va="center", zorder=4,
        bbox=dict(boxstyle="round,pad=0.18,rounding_size=0.3",
                  fc="white", ec="#006400", lw=1.5))

for sp in ax.spines.values():
    sp.set_color("#333333")
    sp.set_linewidth(1.7)

ax.tick_params(axis="both", which="major", length=5.8, width=1.7,
               color="#333333", labelsize=24, labelcolor="#4D4D4D", pad=2)
ax.tick_params(which="minor", length=0)

ax.set_xlabel("G.A.M.E.", fontsize=27.5, color="black")
ax.set_ylabel("module eigengene", fontsize=28, color="black")
ax.xaxis.set_label_coords(0.5, (bottom_px - 847) / (bottom_px - top_px))
ax.xaxis.label.set_verticalalignment("baseline")
ax.yaxis.set_label_coords((35 - left_px) / (right_px - left_px), 0.5)
ax.yaxis.label.set_verticalalignment("center")

# preprint notice along the top edge
fig.text(118 / W, 1 - 10 / H,
         "(which was not certified by peer review) is the author/funder, who has "
         "granted bioRxiv a license to display the preprint in perpetuity. It is made",
         fontsize=15.5, ha="left", va="baseline", color="black")
fig.text(677 / W, 1 - 33 / H, "available under a",
         fontsize=15.5, ha="right", va="baseline", color="black")
fig.text(677 / W, 1 - 33 / H, "CC-BY-NC-ND 4.0 International license.",
         fontsize=15.5, ha="left", va="baseline", color="blue")

fig.savefig("out.png", dpi=100)
